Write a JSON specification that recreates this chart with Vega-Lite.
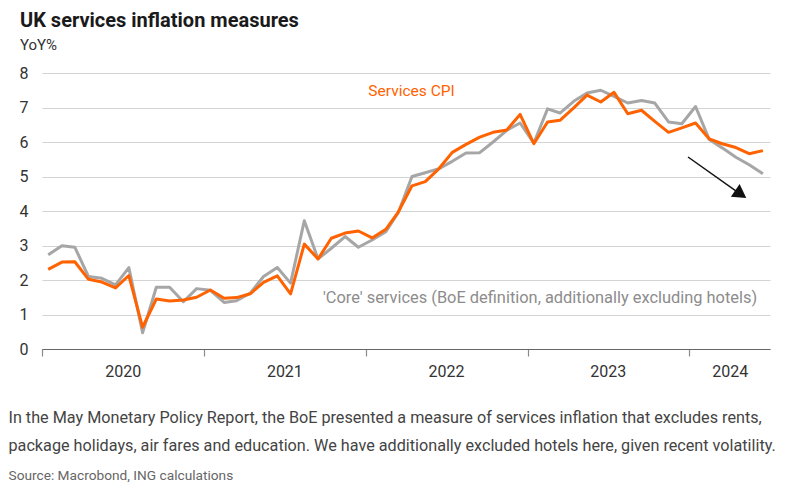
{
  "$schema": "https://vega.github.io/schema/vega-lite/v6.json",
  "width": 728,
  "height": 276,
  "autosize": {"type": "none"},
  "padding": {"left": 42, "top": 73, "right": 26, "bottom": 140},
  "background": "white",
  "config": {"font": "Roboto", "view": {"stroke": null}},
  "title": {
    "text": "UK services inflation measures",
    "subtitle": "YoY%",
    "anchor": "start",
    "frame": "group",
    "dx": -22,
    "offset": 12,
    "fontSize": 20,
    "fontWeight": "bold",
    "color": "#1a1a1a",
    "subtitleFontSize": 15,
    "subtitleColor": "#333333",
    "subtitlePadding": 7
  },
  "datasets": {
    "series": [
      {"month": "2020-01-15", "cpi": 2.31, "core": 2.73},
      {"month": "2020-02-15", "cpi": 2.52, "core": 2.99},
      {"month": "2020-03-15", "cpi": 2.53, "core": 2.95},
      {"month": "2020-04-15", "cpi": 2.02, "core": 2.10},
      {"month": "2020-05-15", "cpi": 1.94, "core": 2.05},
      {"month": "2020-06-15", "cpi": 1.77, "core": 1.86},
      {"month": "2020-07-15", "cpi": 2.13, "core": 2.36},
      {"month": "2020-08-15", "cpi": 0.63, "core": 0.47},
      {"month": "2020-09-15", "cpi": 1.45, "core": 1.79},
      {"month": "2020-10-15", "cpi": 1.39, "core": 1.79},
      {"month": "2020-11-15", "cpi": 1.42, "core": 1.37},
      {"month": "2020-12-15", "cpi": 1.50, "core": 1.75},
      {"month": "2021-01-15", "cpi": 1.71, "core": 1.70},
      {"month": "2021-02-15", "cpi": 1.47, "core": 1.35},
      {"month": "2021-03-15", "cpi": 1.49, "core": 1.40},
      {"month": "2021-04-15", "cpi": 1.60, "core": 1.62},
      {"month": "2021-05-15", "cpi": 1.93, "core": 2.10},
      {"month": "2021-06-15", "cpi": 2.12, "core": 2.36},
      {"month": "2021-07-15", "cpi": 1.60, "core": 1.91},
      {"month": "2021-08-15", "cpi": 3.04, "core": 3.72},
      {"month": "2021-09-15", "cpi": 2.61, "core": 2.61},
      {"month": "2021-10-15", "cpi": 3.21, "core": 2.92},
      {"month": "2021-11-15", "cpi": 3.36, "core": 3.26},
      {"month": "2021-12-15", "cpi": 3.42, "core": 2.95},
      {"month": "2022-01-15", "cpi": 3.22, "core": 3.16},
      {"month": "2022-02-15", "cpi": 3.47, "core": 3.40},
      {"month": "2022-03-15", "cpi": 3.97, "core": 3.95},
      {"month": "2022-04-15", "cpi": 4.73, "core": 5.00},
      {"month": "2022-05-15", "cpi": 4.85, "core": 5.11},
      {"month": "2022-06-15", "cpi": 5.23, "core": 5.23},
      {"month": "2022-07-15", "cpi": 5.70, "core": 5.44},
      {"month": "2022-08-15", "cpi": 5.93, "core": 5.68},
      {"month": "2022-09-15", "cpi": 6.14, "core": 5.69},
      {"month": "2022-10-15", "cpi": 6.28, "core": 6.00},
      {"month": "2022-11-15", "cpi": 6.35, "core": 6.34},
      {"month": "2022-12-15", "cpi": 6.80, "core": 6.55},
      {"month": "2023-01-15", "cpi": 5.95, "core": 5.97},
      {"month": "2023-02-15", "cpi": 6.58, "core": 6.96},
      {"month": "2023-03-15", "cpi": 6.63, "core": 6.84},
      {"month": "2023-04-15", "cpi": 6.99, "core": 7.18},
      {"month": "2023-05-15", "cpi": 7.36, "core": 7.42},
      {"month": "2023-06-15", "cpi": 7.16, "core": 7.50},
      {"month": "2023-07-15", "cpi": 7.44, "core": 7.32},
      {"month": "2023-08-15", "cpi": 6.82, "core": 7.13},
      {"month": "2023-09-15", "cpi": 6.92, "core": 7.20},
      {"month": "2023-10-15", "cpi": 6.60, "core": 7.13},
      {"month": "2023-11-15", "cpi": 6.28, "core": 6.58},
      {"month": "2023-12-15", "cpi": 6.41, "core": 6.53},
      {"month": "2024-01-15", "cpi": 6.55, "core": 7.03},
      {"month": "2024-02-15", "cpi": 6.09, "core": 6.07},
      {"month": "2024-03-15", "cpi": 5.95, "core": 5.83},
      {"month": "2024-04-15", "cpi": 5.84, "core": 5.56},
      {"month": "2024-05-15", "cpi": 5.66, "core": 5.34},
      {"month": "2024-06-15", "cpi": 5.75, "core": 5.08}
    ]
  },
  "resolve": {"axis": {"x": "independent", "y": "independent"}},
  "layer": [
    {
      "data": {"name": "series"},
      "mark": {"type": "line", "color": "#a6a6a6", "strokeWidth": 3, "strokeJoin": "round"},
      "encoding": {
        "x": {
          "field": "month",
          "type": "temporal",
          "scale": {
            "type": "utc",
            "domain": [
              {"year": 2020, "month": 1, "date": 1, "utc": true},
              {"year": 2024, "month": 7, "date": 1, "utc": true}
            ]
          },
          "axis": {
            "orient": "bottom",
            "values": [
              {"year": 2020, "month": 1, "date": 1, "utc": true},
              {"year": 2020, "month": 7, "date": 1, "utc": true},
              {"year": 2021, "month": 1, "date": 1, "utc": true},
              {"year": 2021, "month": 7, "date": 1, "utc": true},
              {"year": 2022, "month": 1, "date": 1, "utc": true},
              {"year": 2022, "month": 7, "date": 1, "utc": true},
              {"year": 2023, "month": 1, "date": 1, "utc": true},
              {"year": 2023, "month": 7, "date": 1, "utc": true},
              {"year": 2024, "month": 1, "date": 1, "utc": true},
              {"year": 2024, "month": 4, "date": 1, "utc": true}
            ],
            "labelExpr": "utcmonth(datum.value) === 0 ? '' : utcFormat(datum.value, '%Y')",
            "tickColor": {"condition": {"test": "utcmonth(datum.value) === 0", "value": "#8a8a8a"}, "value": "transparent"},
            "tickSize": 7,
            "tickWidth": 1.2,
            "domainColor": "#666666",
            "domainWidth": 1.2,
            "grid": false,
            "labelFontSize": 16,
            "labelColor": "#333333",
            "labelPadding": 7,
            "labelFlush": false,
            "labelOverlap": false,
            "title": [
              "In the May Monetary Policy Report, the BoE presented a measure of services inflation that excludes rents,",
              "package holidays, air fares and education. We have additionally excluded hotels here, given recent volatility."
            ],
            "titleAnchor": "start",
            "titleAlign": "left",
            "titleX": -34,
            "titleY": 60,
            "titleBaseline": "top",
            "titleFontSize": 16.2,
            "titleFontWeight": "normal",
            "titleColor": "#444444",
            "titleLineHeight": 28,
            "titleLimit": 1000
          }
        },
        "y": {
          "field": "core",
          "type": "quantitative",
          "scale": {"domain": [0, 8], "nice": false},
          "axis": {
            "values": [0, 1, 2, 3, 4, 5, 6, 7, 8],
            "grid": true,
            "gridColor": "#d4d4d4",
            "gridWidth": 1.2,
            "domain": false,
            "ticks": false,
            "labelFontSize": 16,
            "labelColor": "#333333",
            "labelPadding": 14,
            "title": null
          }
        }
      }
    },
    {
      "data": {"name": "series"},
      "mark": {"type": "line", "color": "#ff6200", "strokeWidth": 3, "strokeJoin": "round"},
      "encoding": {
        "x": {"field": "month", "type": "temporal", "axis": null},
        "y": {"field": "cpi", "type": "quantitative", "axis": null}
      }
    },
    {
      "data": {"values": [{"date": "2022-04-14", "value": 7.49, "label": "Services CPI"}]},
      "mark": {"type": "text", "color": "#ff6200", "fontSize": 15.5, "align": "center", "baseline": "middle"},
      "encoding": {
        "x": {
          "field": "date",
          "type": "temporal",
          "axis": {
            "orient": "bottom",
            "domain": false,
            "ticks": false,
            "labels": false,
            "grid": false,
            "title": "Source: Macrobond, ING calculations",
            "titleAnchor": "start",
            "titleAlign": "left",
            "titleX": -34,
            "titleY": 119,
            "titleBaseline": "top",
            "titleFontSize": 13.7,
            "titleFontWeight": "normal",
            "titleColor": "#666666",
            "titleLimit": 1000
          }
        },
        "y": {"field": "value", "type": "quantitative", "axis": null},
        "text": {"field": "label"}
      }
    },
    {
      "data": {"values": [{"date": "2023-01-29", "value": 1.48, "label": "'Core' services (BoE definition, additionally excluding hotels)"}]},
      "mark": {"type": "text", "color": "#8c8c8c", "fontSize": 16.4, "align": "center", "baseline": "middle"},
      "encoding": {
        "x": {"field": "date", "type": "temporal", "axis": null},
        "y": {"field": "value", "type": "quantitative", "axis": null},
        "text": {"field": "label"}
      }
    },
    {
      "data": {"values": [{"x1": "2023-12-29", "y1": 5.565, "x2": "2024-04-26", "y2": 4.485}]},
      "mark": {"type": "rule", "color": "#111111", "strokeWidth": 1.5},
      "encoding": {
        "x": {"field": "x1", "type": "temporal", "axis": null},
        "y": {"field": "y1", "type": "quantitative", "axis": null},
        "x2": {"field": "x2"},
        "y2": {"field": "y2"}
      }
    },
    {
      "data": {"values": [{"x": "2024-04-26", "y": 4.485}]},
      "mark": {"type": "point", "shape": "triangle-up", "size": 240, "angle": 124.4, "filled": true, "color": "#111111", "opacity": 1},
      "encoding": {
        "x": {"field": "x", "type": "temporal", "axis": null},
        "y": {"field": "y", "type": "quantitative", "axis": null}
      }
    }
  ]
}
